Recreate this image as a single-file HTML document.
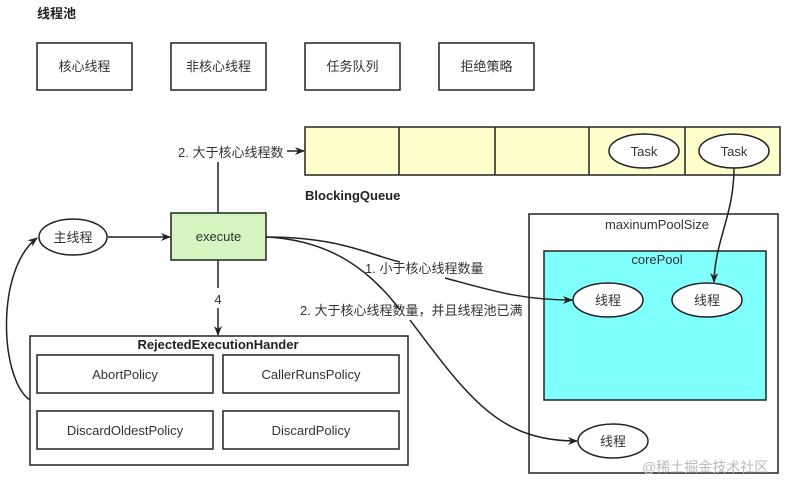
<!DOCTYPE html>
<html><head><meta charset="utf-8"><style>
html,body{margin:0;padding:0;background:#fff;}
svg{display:block;font-family:"Liberation Sans","Noto Sans CJK SC",sans-serif;}
</style></head><body>
<svg width="812" height="493" viewBox="0 0 812 493" xmlns="http://www.w3.org/2000/svg">
<defs><marker id="a" markerWidth="10" markerHeight="8" refX="9" refY="4" orient="auto" markerUnits="userSpaceOnUse"><path d="M0,0 L10,4 L0,8 L3,4 Z" fill="#222"/></marker></defs>
<g font-size="13" fill="#333">
<text x="37" y="18" font-weight="bold" font-size="13" fill="#222">线程池</text>
<g fill="#fff" stroke="#222" stroke-width="1.5">
<rect x="37" y="43" width="95" height="47"/><rect x="171" y="43" width="95" height="47"/>
<rect x="305" y="43" width="95" height="47"/><rect x="439" y="43" width="95" height="47"/>
</g>
<g text-anchor="middle"><text x="84.5" y="71">核心线程</text><text x="218.5" y="71">非核心线程</text><text x="352.5" y="71">任务队列</text><text x="486.5" y="71">拒绝策略</text></g>
<rect x="305" y="127" width="475" height="48" fill="#ffffcc" stroke="#222" stroke-width="1.5"/>
<g stroke="#222" stroke-width="1.5"><line x1="399" y1="127" x2="399" y2="175"/><line x1="495" y1="127" x2="495" y2="175"/><line x1="589" y1="127" x2="589" y2="175"/><line x1="685" y1="127" x2="685" y2="175"/></g>
<g fill="#fff" stroke="#222" stroke-width="1.5"><ellipse cx="644" cy="151" rx="35" ry="17"/><ellipse cx="734" cy="151" rx="35" ry="17"/></g>
<g text-anchor="middle"><text x="644" y="156">Task</text><text x="734" y="156">Task</text></g>
<text x="305" y="200" font-weight="bold" fill="#222">BlockingQueue</text>
<rect x="529" y="214" width="249" height="259" fill="#fff" stroke="#222" stroke-width="1.5"/>
<text x="657" y="229" text-anchor="middle">maxinumPoolSize</text>
<rect x="544" y="251" width="222" height="149" fill="#80ffff" stroke="#222" stroke-width="1.5"/>
<text x="657" y="264" text-anchor="middle">corePool</text>
<g fill="#fff" stroke="#222" stroke-width="1.5"><ellipse cx="608" cy="300" rx="35" ry="17"/><ellipse cx="707" cy="300" rx="35" ry="17"/><ellipse cx="613" cy="441" rx="35" ry="17"/><ellipse cx="73" cy="237" rx="34" ry="18"/></g>
<g text-anchor="middle"><text x="608" y="305">线程</text><text x="707" y="305">线程</text><text x="613" y="446">线程</text><text x="73" y="242">主线程</text></g>
<rect x="171" y="213" width="95" height="47" fill="#d5f5c0" stroke="#222" stroke-width="1.5"/>
<text x="218.5" y="241" text-anchor="middle">execute</text>
<rect x="30" y="336" width="378" height="129" fill="#fff" stroke="#222" stroke-width="1.5"/>
<text x="218" y="349" text-anchor="middle" font-weight="bold" fill="#222">RejectedExecutionHander</text>
<g fill="#fff" stroke="#222" stroke-width="1.5"><rect x="37" y="355" width="176" height="38"/><rect x="223" y="355" width="176" height="38"/><rect x="37" y="411" width="176" height="38"/><rect x="223" y="411" width="176" height="38"/></g>
<g text-anchor="middle"><text x="125" y="379">AbortPolicy</text><text x="311" y="379">CallerRunsPolicy</text><text x="125" y="435">DiscardOldestPolicy</text><text x="311" y="435">DiscardPolicy</text></g>
<g stroke="#222" stroke-width="1.5" fill="none">
<line x1="108" y1="237" x2="170" y2="237" marker-end="url(#a)"/>
<line x1="218" y1="213" x2="218" y2="162"/>
<line x1="287" y1="151" x2="304" y2="151" marker-end="url(#a)"/>
<line x1="218" y1="260" x2="218" y2="288"/>
<line x1="218" y1="308" x2="218" y2="335" marker-end="url(#a)"/>
<path d="M30,400 C0,380 -5,270 37,238" marker-end="url(#a)"/>
<path d="M266,237 C340,237 370,255 400,262"/>
<path d="M445,278 C490,290 520,300 572,300" marker-end="url(#a)"/>
<path d="M266,237 C330,240 370,270 400,310"/>
<path d="M410,320 C470,400 500,441 577,441" marker-end="url(#a)"/>
<path d="M734,168 C734,215 715,240 714,282" marker-end="url(#a)"/>
</g>
<text x="178" y="157">2. 大于核心线程数</text>
<text x="218" y="304" text-anchor="middle">4</text>
<text x="365" y="273">1. 小于核心线程数量</text>
<text x="300" y="315">2. 大于核心线程数量，并且线程池已满</text>
<text x="642" y="472" fill="#bbb" font-size="14">@稀土掘金技术社区</text>
</g>
</svg>
</body></html>
